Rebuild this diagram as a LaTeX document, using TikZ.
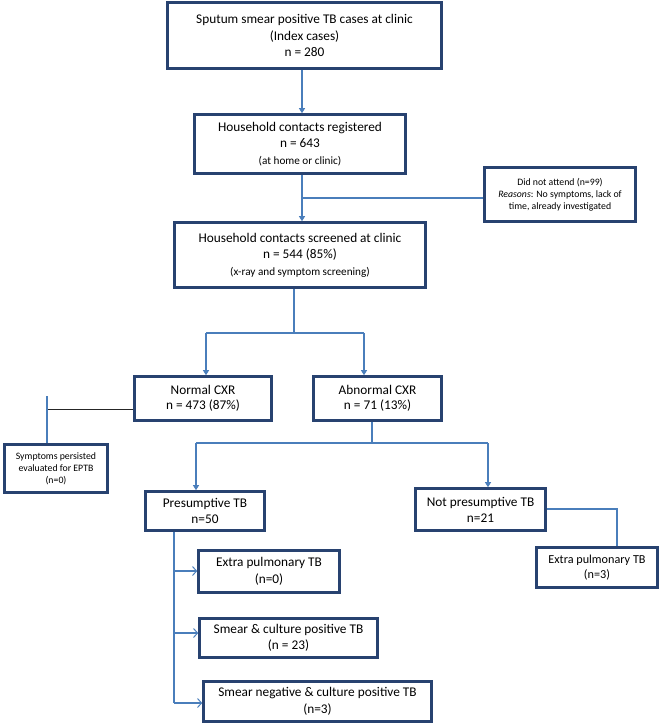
\documentclass[tikz,border=0pt]{standalone}
\usepackage{fontspec}
\setmainfont{Carlito}
\usetikzlibrary{arrows.meta}
\definecolor{boxc}{RGB}{40,66,112}
\definecolor{linec}{RGB}{74,126,187}
\tikzset{
  box/.style={draw=boxc, line width=2.6pt, align=center, inner sep=1pt, font=\fontsize{13.3}{16.5}\selectfont},
  sbox/.style={box, font=\fontsize{9.8}{12}\selectfont},
  conn/.style={draw=linec, line width=1.1pt},
  arr/.style={conn, -{Triangle[width=6pt,length=5pt]}},
  oarr/.style={conn, -{Straight Barb[length=4pt,width=9pt,line width=1pt]}},
}
\newcommand\smallline{\fontsize{11.2}{16}\selectfont}
\begin{document}
\begin{tikzpicture}[x=1pt,y=-1pt]
\useasboundingbox (0,0) rectangle (660,724);
\fill[white] (0,0) rectangle (660,724);
% boxes
\node[box, minimum width=274, minimum height=66] (b1) at (304.5,35.5) {Sputum smear positive TB cases at clinic\\(Index cases)\\n = 280};
\node[box, minimum width=211, minimum height=59] (b2) at (300,144) {Household contacts registered\\n = 643\\{\smallline(at home or clinic)}};
\node[sbox, minimum width=151, minimum height=54] (side) at (560,194.5) {Did not attend (n=99)\\\textit{Reasons}: No symptoms, lack of\\time, already investigated};
\node[box, minimum width=251, minimum height=65] (b3) at (300,255) {Household contacts screened at clinic\\n = 544 (85\%)\\{\smallline(x-ray and symptom screening)}};
\node[box, minimum width=137, minimum height=44, font=\fontsize{13.3}{15}\selectfont] (normal) at (203,398.5) {Normal CXR\\n = 473 (87\%)};
\node[box, minimum width=128, minimum height=44, font=\fontsize{13.3}{15}\selectfont] (abn) at (377.5,398.5) {Abnormal CXR\\n = 71 (13\%)};
\node[sbox, minimum width=103, minimum height=48] (sym) at (56,468.5) {Symptoms persisted\\evaluated for EPTB\\(n=0)};
\node[box, minimum width=119, minimum height=39, font=\fontsize{13.3}{15.5}\selectfont] (pres) at (205,511) {Presumptive TB\\n=50};
\node[box, minimum width=130, minimum height=42, font=\fontsize{13.3}{16}\selectfont] (npres) at (480.5,509.5) {Not presumptive TB\\n=21};
\node[box, minimum width=121, minimum height=40, font=\fontsize{12.2}{15}\selectfont] (eptbr) at (597,567.5) {Extra pulmonary TB\\(n=3)};
\node[box, minimum width=141, minimum height=42, font=\fontsize{13.3}{17}\selectfont] (eptbl) at (269,571.5) {Extra pulmonary TB\\(n=0)};
\node[box, minimum width=178, minimum height=39, font=\fontsize{13.3}{15.5}\selectfont] (smear) at (288.5,638) {Smear \& culture positive TB\\(n = 23)};
\node[box, minimum width=228, minimum height=40, font=\fontsize{13.3}{17}\selectfont] (sneg) at (317.5,701.5) {Smear negative \& culture positive TB\\(n=3)};
% helper coordinates
\coordinate (x1) at (302,0);
\coordinate (j1) at (302,198);
\coordinate (x3) at (294,333);
\coordinate (xn) at (206,333);
\coordinate (xa) at (364,333);
\coordinate (ny) at (0,409);
\coordinate (sx) at (47,396);
\coordinate (x4) at (372,443);
\coordinate (xp) at (196,443);
\coordinate (xq) at (488,443);
\coordinate (ry) at (617,509);
\coordinate (lx) at (174,0);
\coordinate (ly1) at (0,571);
\coordinate (ly2) at (0,633);
\coordinate (ly3) at (0,703);
% connectors
\draw[arr] (b1.south -| x1) -- (b2.north -| x1);
\draw[arr] (b2.south -| x1) -- (b3.north -| x1);
\draw[conn] (side.west |- j1) -- (j1);
\draw[conn] (b3.south -| x3) -- (x3);
\draw[conn] (xn) -- (xa);
\draw[arr] (xn) -- (normal.north -| xn);
\draw[arr] (xa) -- (abn.north -| xa);
\draw[line width=1pt, black!85] (normal.west |- ny) -- (sx |- ny);
\draw[conn] (sx) -- (sym.north -| sx);
\draw[conn] (abn.south -| x4) -- (x4);
\draw[conn] (xp) -- (xq);
\draw[arr] (xp) -- (pres.north -| xp);
\draw[arr] (xq) -- (npres.north -| xq);
\draw[conn] (npres.east |- ry) -- (ry) -- (eptbr.north -| ry);
\draw[conn] (pres.south -| lx) -- (lx |- ly3);
\draw[oarr] (lx |- ly1) -- (eptbl.west |- ly1);
\draw[oarr] (lx |- ly2) -- (smear.west |- ly2);
\draw[oarr] (lx |- ly3) -- (sneg.west |- ly3);
\end{tikzpicture}
\end{document}
